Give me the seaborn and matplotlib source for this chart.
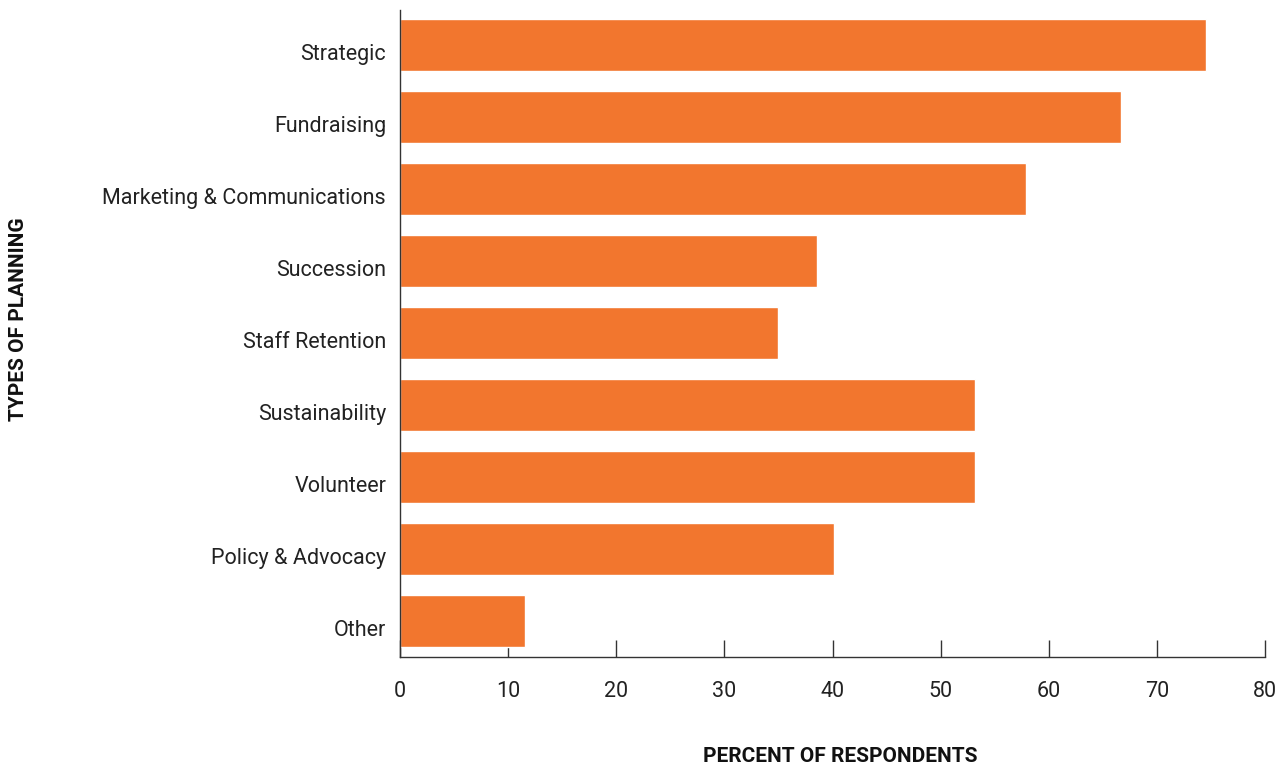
import matplotlib
matplotlib.use("Agg")
import matplotlib.pyplot as plt
import matplotlib.transforms as mtransforms
import seaborn as sns
import pandas as pd

categories = [
    "Strategic",
    "Fundraising",
    "Marketing & Communications",
    "Succession",
    "Staff Retention",
    "Sustainability",
    "Volunteer",
    "Policy & Advocacy",
    "Other",
]
percent = [74.5, 66.7, 57.9, 38.6, 35.0, 53.2, 53.2, 40.1, 11.6]
x_ticks = [0, 10, 20, 30, 40, 50, 60, 70, 80]

df = pd.DataFrame({"type": categories, "percent": percent})

sns.set_theme(style="white")
plt.rcParams["font.family"] = ["Roboto", "DejaVu Sans"]

fig = plt.figure(figsize=(12.88, 7.68), dpi=100)
ax = fig.add_axes([400 / 1288, 1 - 657 / 768, 865 / 1288, 647 / 768])

sns.barplot(data=df, x="percent", y="type", order=categories, color="#F2762E",
            saturation=1, width=0.72, ax=ax)

ax.set_xlim(0, 80)
ax.set_ylim(8.5, -0.49)
ax.set_xticks(x_ticks)
ax.set_xticklabels([str(t) for t in x_ticks])

for side in ("top", "right"):
    ax.spines[side].set_visible(False)
for side in ("left", "bottom"):
    ax.spines[side].set_color("#333333")
    ax.spines[side].set_linewidth(1.0)

ax.tick_params(axis="x", bottom=True, direction="in", length=12, width=1.0,
               color="#333333", pad=17, labelsize=15.5, labelcolor="#222222")
ax.tick_params(axis="y", left=False, length=0, pad=10, labelsize=15.5,
               labelcolor="#222222")
ax.grid(False)

# category labels sit a little below the bar centres
shift = mtransforms.ScaledTranslation(0, -7 / 100, fig.dpi_scale_trans)
for lbl in ax.get_yticklabels():
    lbl.set_transform(lbl.get_transform() + shift)

ax.set_xlabel("")
ax.set_ylabel("")
fig.text(840 / 1288, 1 - 756 / 768, "PERCENT OF RESPONDENTS", ha="center", va="center",
         fontsize=15, fontweight="bold", color="#111111")
fig.text(19 / 1288, 1 - 319 / 768, "TYPES OF PLANNING", ha="center", va="center",
         rotation=90, fontsize=15, fontweight="bold", color="#111111")

fig.savefig("out.png", dpi=100)
